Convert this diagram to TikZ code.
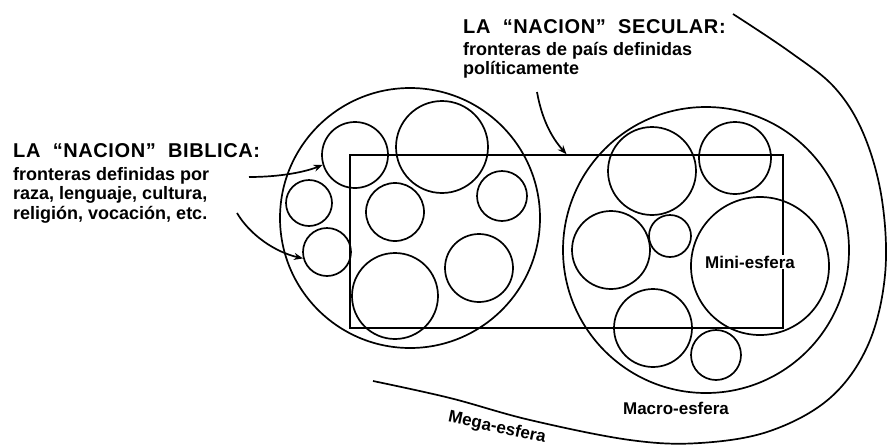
\documentclass[tikz,border=0pt]{standalone}
\usepackage{fontspec}
\setmainfont{Liberation Sans}
\usetikzlibrary{arrows.meta}
\begin{document}
\begin{tikzpicture}[x=1pt,y=-1pt,
  ring/.style={draw,circle,line width=1.7pt,inner sep=0pt},
  box/.style={draw,rectangle,line width=1.7pt,inner sep=0pt},
  pointer/.style={line width=1.7pt,-{Stealth[length=9pt,width=7pt]}},
  titletext/.style={font=\fontsize{20}{22}\selectfont\bfseries\addfontfeatures{LetterSpace=3},inner sep=0pt},
  bodytext/.style={font=\fontsize{18}{19.5}\selectfont\bfseries,inner sep=0pt,align=left},
  labeltext/.style={font=\fontsize{17}{19}\selectfont\bfseries,inner sep=1pt}]
\useasboundingbox (0,0) rectangle (888,445);
% mega sphere outline
\draw[line width=1.7pt] plot[smooth,tension=0.6] coordinates {(733,14) (790,52) (835,88) (864,135) (882,200) (885,275) (868,345) (830,398) (770,431) (700,443) (630,440) (530,420) (450,398) (373,381)};
% big spheres
\node[ring,minimum size=260pt] (L) at (410,218) {};
\node[ring,minimum size=286pt] (R) at (706,250) {};
% secular nation rectangle
\node[box,minimum width=433pt,minimum height=173pt] (nation) at (566.5,241.5) {};
% left sphere small circles
\node[ring,minimum size=66pt] (a) at (355,155) {};
\node[ring,minimum size=92pt] (b) at (442,147) {};
\node[ring,minimum size=46pt] (c) at (309,203) {};
\node[ring,minimum size=48pt] (d) at (327,252) {};
\node[ring,minimum size=58pt] (e) at (395,212) {};
\node[ring,minimum size=50pt] (f) at (502,196) {};
\node[ring,minimum size=86pt] (g) at (395,296) {};
\node[ring,minimum size=68pt] (h) at (479,268) {};
% right sphere small circles
\node[ring,minimum size=88pt] (i) at (652,171) {};
\node[ring,minimum size=72pt] (j) at (735,158) {};
\node[ring,minimum size=78pt] (k) at (611,250) {};
\node[ring,minimum size=42pt] (l) at (670,236) {};
\node[ring,minimum size=138pt] (mini) at (760,266) {};
\node[ring,minimum size=78pt] (n) at (653,328) {};
\node[ring,minimum size=50pt] (o) at (716,355) {};
% labels
\node[labeltext,fill=white] (minilabel) at (750,262) {Mini-esfera};
\node[labeltext] (macro) at (676,408) {Macro-esfera};
\node[labeltext,rotate=-12] (mega) at (497,428) {Mega-esfera};
% texts
\node[titletext,anchor=base west] (bibT) at (13,157) {LA \ ``NACION'' \ BIBLICA:};
\node[bodytext,anchor=north west] (bibB) at (13,167) {fronteras definidas por\\raza, lenguaje, cultura,\\religión, vocación, etc.};
\node[titletext,anchor=base west] (secT) at (463,33) {LA \ ``NACION'' \ SECULAR:};
\node[bodytext,anchor=north west] (secB) at (463,42) {fronteras de país definidas\\políticamente};
% arrows
\coordinate (s1) at (249,177);
\coordinate (s2) at (237,213);
\coordinate (s3) at (537,92);
\draw[pointer] (s1) .. controls (280,177) and (305,172) .. (a.197);
\draw[pointer] (s2) .. controls (250,235) and (275,252) .. (d.195);
\draw[pointer] (s3) .. controls (542,120) and (552,138) .. (nation.north);
\end{tikzpicture}
\end{document}
